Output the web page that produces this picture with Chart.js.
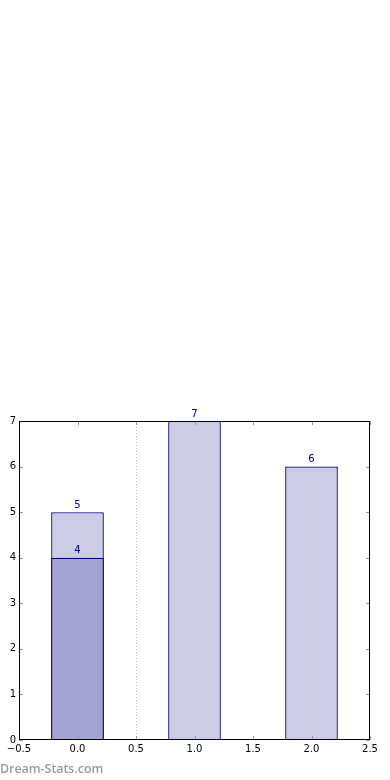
<!DOCTYPE html>
<html lang="en">
<head>
<meta charset="UTF-8">
<title>Bars</title>
<script src="https://cdn.jsdelivr.net/npm/chart.js"></script>
<style>
  html, body { margin: 0; padding: 0; background: #fff; }
  .wrap { position: relative; width: 390px; height: 780px; }
  .brand { position: absolute; left: 0; top: 760px; font: 600 12.4px "Open Sans", sans-serif; color: #9a9a9a; }
</style>
</head>
<body>
<div class="wrap">
  <canvas id="chart"></canvas>
  <div class="brand">Dream-Stats.com</div>
</div>
<script>
// bar positions and heights
const positions = [0, 1, 2];
const totals = [5, 7, 6];
// darker part drawn over the first bar
const partPositions = [0];
const partValues = [4];
// axis ticks
const xTicks = [-0.5, 0, 0.5, 1, 1.5, 2, 2.5];
const yTicks = [0, 1, 2, 3, 4, 5, 6, 7];
const dividerAt = 0.5;

const edge = '#000080';

const extras = {
  id: 'extras',
  beforeDatasetsDraw(chart) {
    const { ctx, chartArea: a, scales } = chart;
    const x = Math.round(scales.x.getPixelForValue(dividerAt)) + 0.5;
    ctx.save();
    ctx.strokeStyle = '#bbbbbb';
    ctx.lineWidth = 1;
    ctx.setLineDash([1, 2]);
    ctx.beginPath();
    ctx.moveTo(x, a.top);
    ctx.lineTo(x, a.bottom);
    ctx.stroke();
    ctx.restore();
  },
  afterDatasetsDraw(chart) {
    const { ctx, chartArea: a, scales } = chart;
    ctx.save();
    // inward ticks on all sides
    ctx.strokeStyle = '#999999';
    ctx.lineWidth = 1;
    ctx.beginPath();
    xTicks.forEach(v => {
      const px = Math.round(scales.x.getPixelForValue(v)) + 0.5;
      ctx.moveTo(px, a.bottom); ctx.lineTo(px, a.bottom - 4);
      ctx.moveTo(px, a.top); ctx.lineTo(px, a.top + 4);
    });
    yTicks.forEach(v => {
      const py = Math.round(scales.y.getPixelForValue(v)) + 0.5;
      ctx.moveTo(a.left, py); ctx.lineTo(a.left + 4, py);
      ctx.moveTo(a.right, py); ctx.lineTo(a.right - 4, py);
    });
    ctx.stroke();
    // frame
    ctx.strokeStyle = '#000';
    ctx.strokeRect(Math.round(a.left) + 0.5, Math.round(a.top) + 0.5,
      Math.round(a.right - a.left) - 1, Math.round(a.bottom - a.top) - 1);
    // value labels
    ctx.fillStyle = edge;
    ctx.font = '10px "DejaVu Sans", sans-serif';
    ctx.textAlign = 'center';
    ctx.textBaseline = 'bottom';
    chart.data.datasets.forEach((ds, i) => {
      chart.getDatasetMeta(i).data.forEach((bar, j) => {
        ctx.fillText(String(ds.data[j].y), bar.x, bar.y - 2);
      });
    });
    ctx.restore();
  }
};

new Chart(document.getElementById('chart'), {
  type: 'bar',
  data: {
    datasets: [
      {
        data: partPositions.map((p, i) => ({ x: p, y: partValues[i] })),
        backgroundColor: '#a4a4d2',
        borderColor: edge,
        borderWidth: 1.3,
        order: 0
      },
      {
        data: positions.map((p, i) => ({ x: p, y: totals[i] })),
        backgroundColor: '#ccccE6',
        borderColor: edge,
        borderWidth: 1.3,
        order: 1
      }
    ]
  },
  options: {
    responsive: true,
    maintainAspectRatio: false,
    animation: false,
    grouped: false,
    // ruler is the 0.5 tick spacing, so 0.9 of it = 0.45 data units
    categoryPercentage: 1,
    barPercentage: 0.9,
    layout: { padding: { top: 421, right: 20, bottom: 20, left: 0 } },
    plugins: { legend: { display: false }, tooltip: { enabled: false } },
    scales: {
      x: {
        type: 'linear',
        offset: false,
        min: -0.5,
        max: 2.5,
        afterBuildTicks: s => { s.ticks = xTicks.map(v => ({ value: v })); },
        afterFit: s => { s.height = 20; },
        grid: { display: false, drawTicks: false, offset: false },
        border: { display: false },
        ticks: {
          padding: 3,
          color: '#000',
          font: { family: 'DejaVu Sans', size: 10 },
          callback: v => (v < 0 ? '\u2212' : '') + Math.abs(v).toFixed(1)
        }
      },
      y: {
        min: 0,
        max: 7,
        afterBuildTicks: s => { s.ticks = yTicks.map(v => ({ value: v })); },
        afterFit: s => { s.width = 19; },
        grid: { display: false, drawTicks: false },
        border: { display: false },
        ticks: {
          padding: 3,
          color: '#000',
          font: { family: 'DejaVu Sans', size: 10 }
        }
      }
    }
  },
  plugins: [extras]
});
</script>
</body>
</html>
